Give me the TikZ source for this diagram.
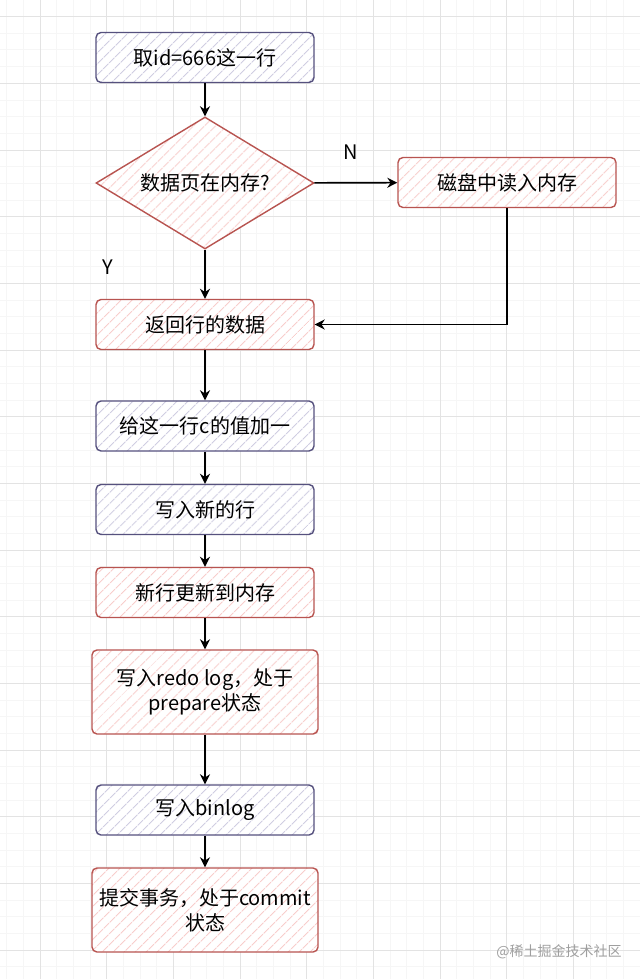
\documentclass[tikz,border=0pt]{standalone}
\usepackage{fontspec}
\setmainfont{Noto Sans CJK SC}
\usetikzlibrary{shapes.geometric,patterns.meta,arrows.meta}
\definecolor{purpleline}{HTML}{56517E}
\definecolor{purplehatch}{HTML}{D0CEE2}
\definecolor{redline}{HTML}{B85450}
\definecolor{redhatch}{HTML}{F8CECC}

\begin{document}
\begin{tikzpicture}[x=0.5pt,y=-0.5pt]
        \tikzstyle{every node}=[font=\fontsize{10}{12.5}\selectfont]
        \tikzstyle{minorgrid}=[gray!7,line width=0.5pt]
        \tikzstyle{majorgrid}=[gray!22,line width=0.5pt]
        \tikzstyle{hatched}=[draw,line width=0.7pt,align=center,inner sep=2pt,preaction={fill=white},pattern={Lines[angle=45,distance=4pt,line width=0.5pt]}]
        \tikzstyle{purplebox}=[hatched,rounded corners=2.5pt,minimum width=109pt,minimum height=25pt,draw=purpleline,pattern color=purplehatch]
        \tikzstyle{redbox}=[hatched,rounded corners=2.5pt,minimum width=109pt,minimum height=25pt,draw=redline,pattern color=redhatch]
        \tikzstyle{redrhombus}=[hatched,diamond,aspect=1.65,minimum width=109pt,minimum height=66pt,inner sep=0pt,draw=redline,pattern color=redhatch]
        \tikzstyle{flow}=[-{Stealth[length=5pt,width=5pt]},line width=0.8pt]
        \useasboundingbox (0,0) rectangle (640,979);
        \fill[white] (0,0) rectangle (640,979);
        % background grid
        \foreach \i in {0,...,38} \draw[minorgrid] ({6.667+16.667*\i},0) -- ({6.667+16.667*\i},979);
        \foreach \i in {0,...,58} \draw[minorgrid] (0,{16.667*\i}) -- (640,{16.667*\i});
        \foreach \i in {0,...,9} \draw[majorgrid] ({40+66.667*\i},0) -- ({40+66.667*\i},979);
        \foreach \i in {0,...,14} \draw[majorgrid] (0,{16.667+66.667*\i}) -- (640,{16.667+66.667*\i});
        % steps
        \node[purplebox] (fetch) at (205,57.5) {取id=666这一行};
        \node[redrhombus] (inmem) at (205,183) {数据页在内存?};
        \node[redbox] (disk) at (507,182.5) {磁盘中读入内存};
        \node[redbox] (ret) at (205,324.5) {返回行的数据};
        \node[purplebox] (incr) at (205,426) {给这一行c的值加一};
        \node[purplebox] (newrow) at (205,509.5) {写入新的行};
        \node[redbox] (update) at (205,592.5) {新行更新到内存};
        \node[redbox,minimum width=113pt,minimum height=42pt] (redo) at (205,692) {写入redo log，处于\\prepare状态};
        \node[purplebox] (binlog) at (205,810) {写入binlog};
        \node[redbox,minimum width=113pt,minimum height=42pt] (commit) at (205,910) {提交事务，处于commit\\状态};
        % branch labels
        \node (no) at (351,152) {N};
        \node (yes) at (108,267) {Y};
        \node[text=gray!75,font=\fontsize{7}{8}\selectfont] (mark) at (559,952) {@稀土掘金技术社区};
        % connectors
        \draw[flow] (fetch) -- (inmem);
        \draw[flow] (inmem) -- (disk);
        \draw[flow] (inmem) -- (ret);
        \draw[flow] (disk) |- (ret);
        \draw[flow] (ret) -- (incr);
        \draw[flow] (incr) -- (newrow);
        \draw[flow] (newrow) -- (update);
        \draw[flow] (update) -- (redo);
        \draw[flow] (redo) -- (binlog);
        \draw[flow] (binlog) -- (commit);
    \end{tikzpicture}
\end{document}
